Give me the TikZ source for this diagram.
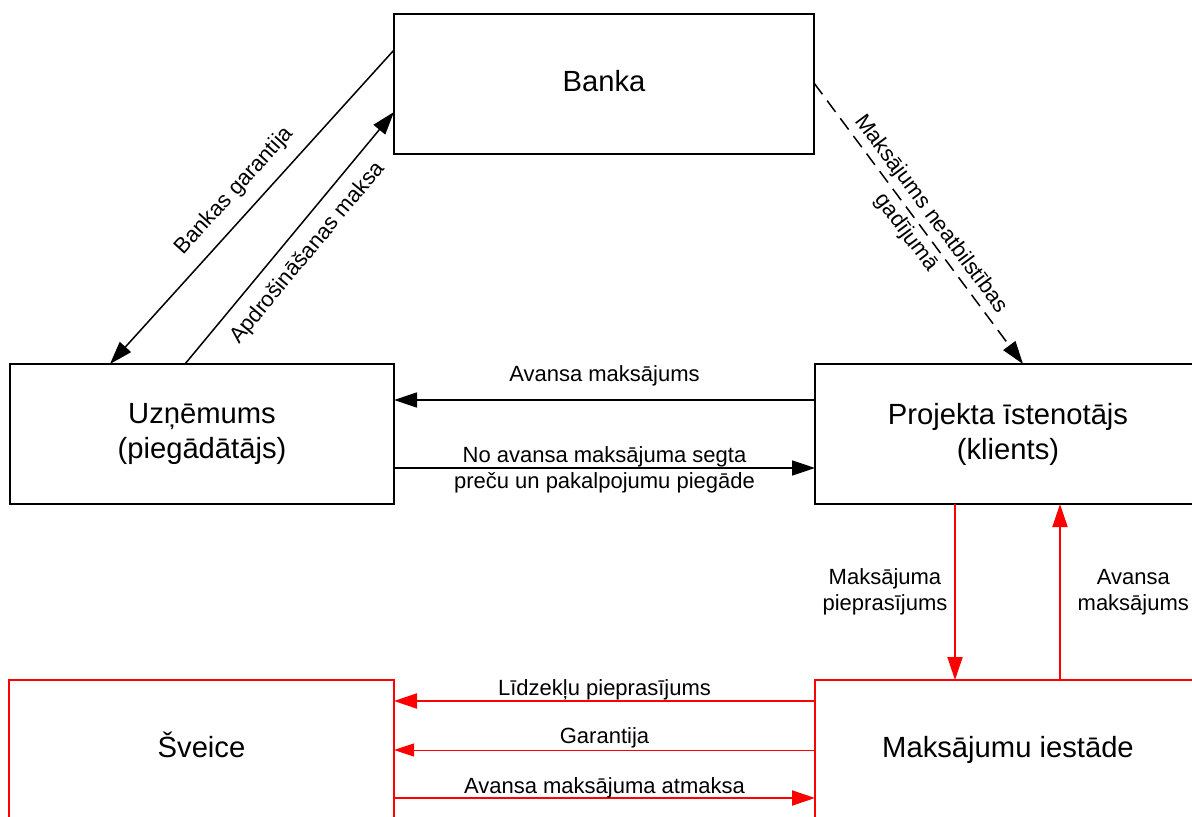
\documentclass[tikz,border=0pt]{standalone}
\usepackage{fontspec}
\setmainfont{Liberation Sans}
\usetikzlibrary{arrows.meta,calc}
\begin{document}
\begin{tikzpicture}[x=0.5pt,y=-0.5pt,
  box/.style={draw, line width=1pt, outer sep=0pt, inner sep=0pt, minimum height=70pt,
    font=\fontsize{14.6}{17.5}\selectfont, align=center},
  oneline/.style={text height=10.5pt, text depth=3pt},
  redbox/.style={box, draw=red},
  tipbig/.style={-{Triangle[length=11.5pt,width=7.5pt]}},
  conn/.style={line width=0.75pt, tipbig},
  redconn/.style={line width=1pt, draw=red, -{Triangle[length=11.5pt,width=7.5pt,fill=red]}},
  thinred/.style={line width=0.5pt, draw=red, -{Triangle[length=10pt,width=6.5pt,fill=red]}},
  lbl/.style={font=\fontsize{11}{13}\selectfont, align=center, text=black},
]
\fill[white] (0,0) rectangle (1192,817);
\useasboundingbox (0,0) rectangle (1192,817);
\clip (0,0) rectangle (1192,817);

% boxes
\node[box, oneline, minimum width=210pt] (banka) at (604,84) {Banka};
\node[box, minimum width=192pt] (uzn) at (202,434) {Uzņēmums\\(piegādātājs)};
\node[box, minimum width=193pt] (proj) at (1008,434) {Projekta īstenotājs\\(klients)};
\node[redbox, oneline, minimum width=192.5pt] (sv) at (201.5,750) {Šveice};
\node[redbox, oneline, minimum width=193pt] (mi) at (1008,750) {Maksājumu iestāde};

% black connectors
\draw[conn] ($(banka.north west)+(0,36)$) -- node[lbl, sloped, above=3pt]{Bankas garantija} ($(uzn.north west)+(100,0)$);
\draw[conn] ($(uzn.north west)+(175,0)$) -- node[lbl, sloped, below=3pt]{Apdrošināšanas maksa} ($(banka.north west)+(0,98)$);
\draw[conn, dash pattern=on 7pt off 4pt] ($(banka.north east)+(0,69)$) -- node[lbl, sloped, font=\fontsize{11}{15.5}\selectfont]{Maksājums neatbilstības\\gadījumā} ($(proj.north west)+(208,0)$);
\draw[conn] ($(proj.north west)+(0,36)$) -- node[lbl, anchor=base, yshift=9pt]{Avansa maksājums} ($(uzn.north east)+(0,36)$);
\draw[conn] ($(uzn.north east)+(0,104)$) -- node[lbl, yshift=-1pt]{No avansa maksājuma segta\\preču un pakalpojumu piegāde} ($(proj.north west)+(0,104)$);

% red connectors
\draw[redconn] ($(proj.south west)+(140,0)$) -- node[lbl, left=0pt]{Maksājuma\\pieprasījums} ($(mi.north west)+(140,0)$);
\draw[redconn] ($(mi.north west)+(245,0)$) -- node[lbl, right=5pt]{Avansa\\maksājums} ($(proj.south west)+(245,0)$);
\draw[redconn] ($(mi.north west)+(0,21)$) -- node[lbl, anchor=base, yshift=3pt]{Līdzekļu pieprasījums} ($(sv.north east)+(0,21)$);
\draw[thinred] ($(mi.north west)+(0,70)$) -- node[lbl, anchor=base, yshift=3.5pt]{Garantija} ($(sv.north east)+(0,70)$);
\draw[redconn] ($(sv.north east)+(0,118)$) -- node[lbl, anchor=base, yshift=2.5pt]{Avansa maksājuma atmaksa} ($(mi.north west)+(0,118)$);
\end{tikzpicture}
\end{document}
